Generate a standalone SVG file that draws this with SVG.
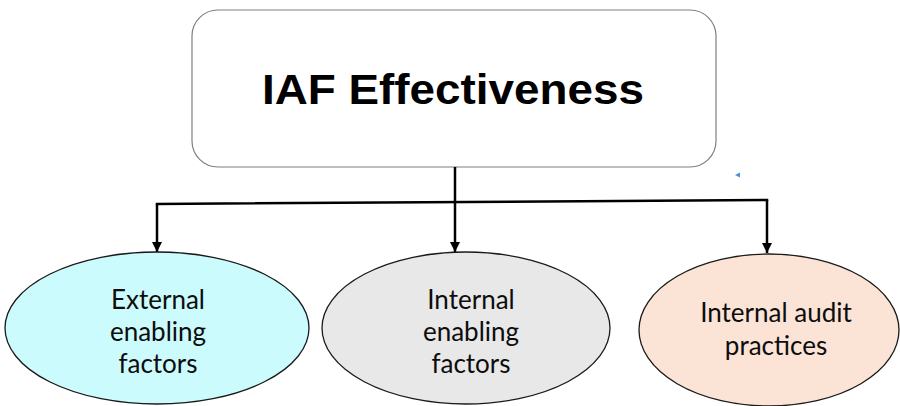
<svg xmlns="http://www.w3.org/2000/svg" width="900" height="406" viewBox="0 0 900 406">
  <defs>
    <marker id="arrow" viewBox="0 0 10 10" refX="10" refY="5" markerWidth="4" markerHeight="4" orient="auto" markerUnits="strokeWidth">
      <path d="M0,0 L10,5 L0,10 z" fill="#000"/>
    </marker>
    <style>
      .box { fill: #ffffff; stroke: #7f7f7f; stroke-width: 1.2; }
      .oval { stroke: #1a1a1a; stroke-width: 1.3; }
      .title { font-family: "Liberation Sans", Arial, sans-serif; font-weight: bold; font-size: 42px; fill: #000; }
      .label { font-family: Lato, "Liberation Sans", sans-serif; font-size: 26px; fill: #0d0d0d; text-anchor: middle; }
      .wire { fill: none; stroke: #000; stroke-width: 2.5; }
      .bar { fill: none; stroke: #000; stroke-width: 2.5; stroke-linecap: square; }
    </style>
  </defs>

  <rect width="900" height="406" fill="#ffffff"/>

  <!-- top box -->
  <g id="iaf-effectiveness">
    <rect class="box" x="192" y="10" width="524" height="157" rx="26" ry="26"/>
    <text class="title" x="262" y="104" textLength="382" lengthAdjust="spacingAndGlyphs">IAF Effectiveness</text>
  </g>

  <!-- connectors: trunk, cross bar, three drops -->
  <g id="connectors">
    <line class="wire" x1="455" y1="167" x2="455" y2="252" marker-end="url(#arrow)"/>
    <line class="bar" x1="157" y1="204" x2="767" y2="200"/>
    <line class="wire" x1="157" y1="204" x2="157" y2="252" marker-end="url(#arrow)"/>
    <line class="wire" x1="767" y1="200" x2="767" y2="253" marker-end="url(#arrow)"/>
  </g>

  <!-- small blue mark -->
  <polygon points="735,175 740,172.5 740,177.5" fill="#4a90d9"/>

  <!-- ovals -->
  <g id="external-enabling-factors">
    <ellipse class="oval" cx="157" cy="328" rx="152" ry="76" fill="#ccfbfd"/>
    <text class="label" x="158" y="309">External<tspan x="158" dy="32">enabling</tspan><tspan x="158" dy="32">factors</tspan></text>
  </g>

  <g id="internal-enabling-factors">
    <ellipse class="oval" cx="466" cy="328" rx="144" ry="76" fill="#e8e8e8"/>
    <text class="label" x="471" y="309">Internal<tspan x="471" dy="32">enabling</tspan><tspan x="471" dy="32">factors</tspan></text>
  </g>

  <g id="internal-audit-practices">
    <ellipse class="oval" cx="769" cy="330" rx="130" ry="76" fill="#fbe3d6"/>
    <text class="label" x="776" y="322">Internal audit<tspan x="776" dy="33">practices</tspan></text>
  </g>
</svg>
